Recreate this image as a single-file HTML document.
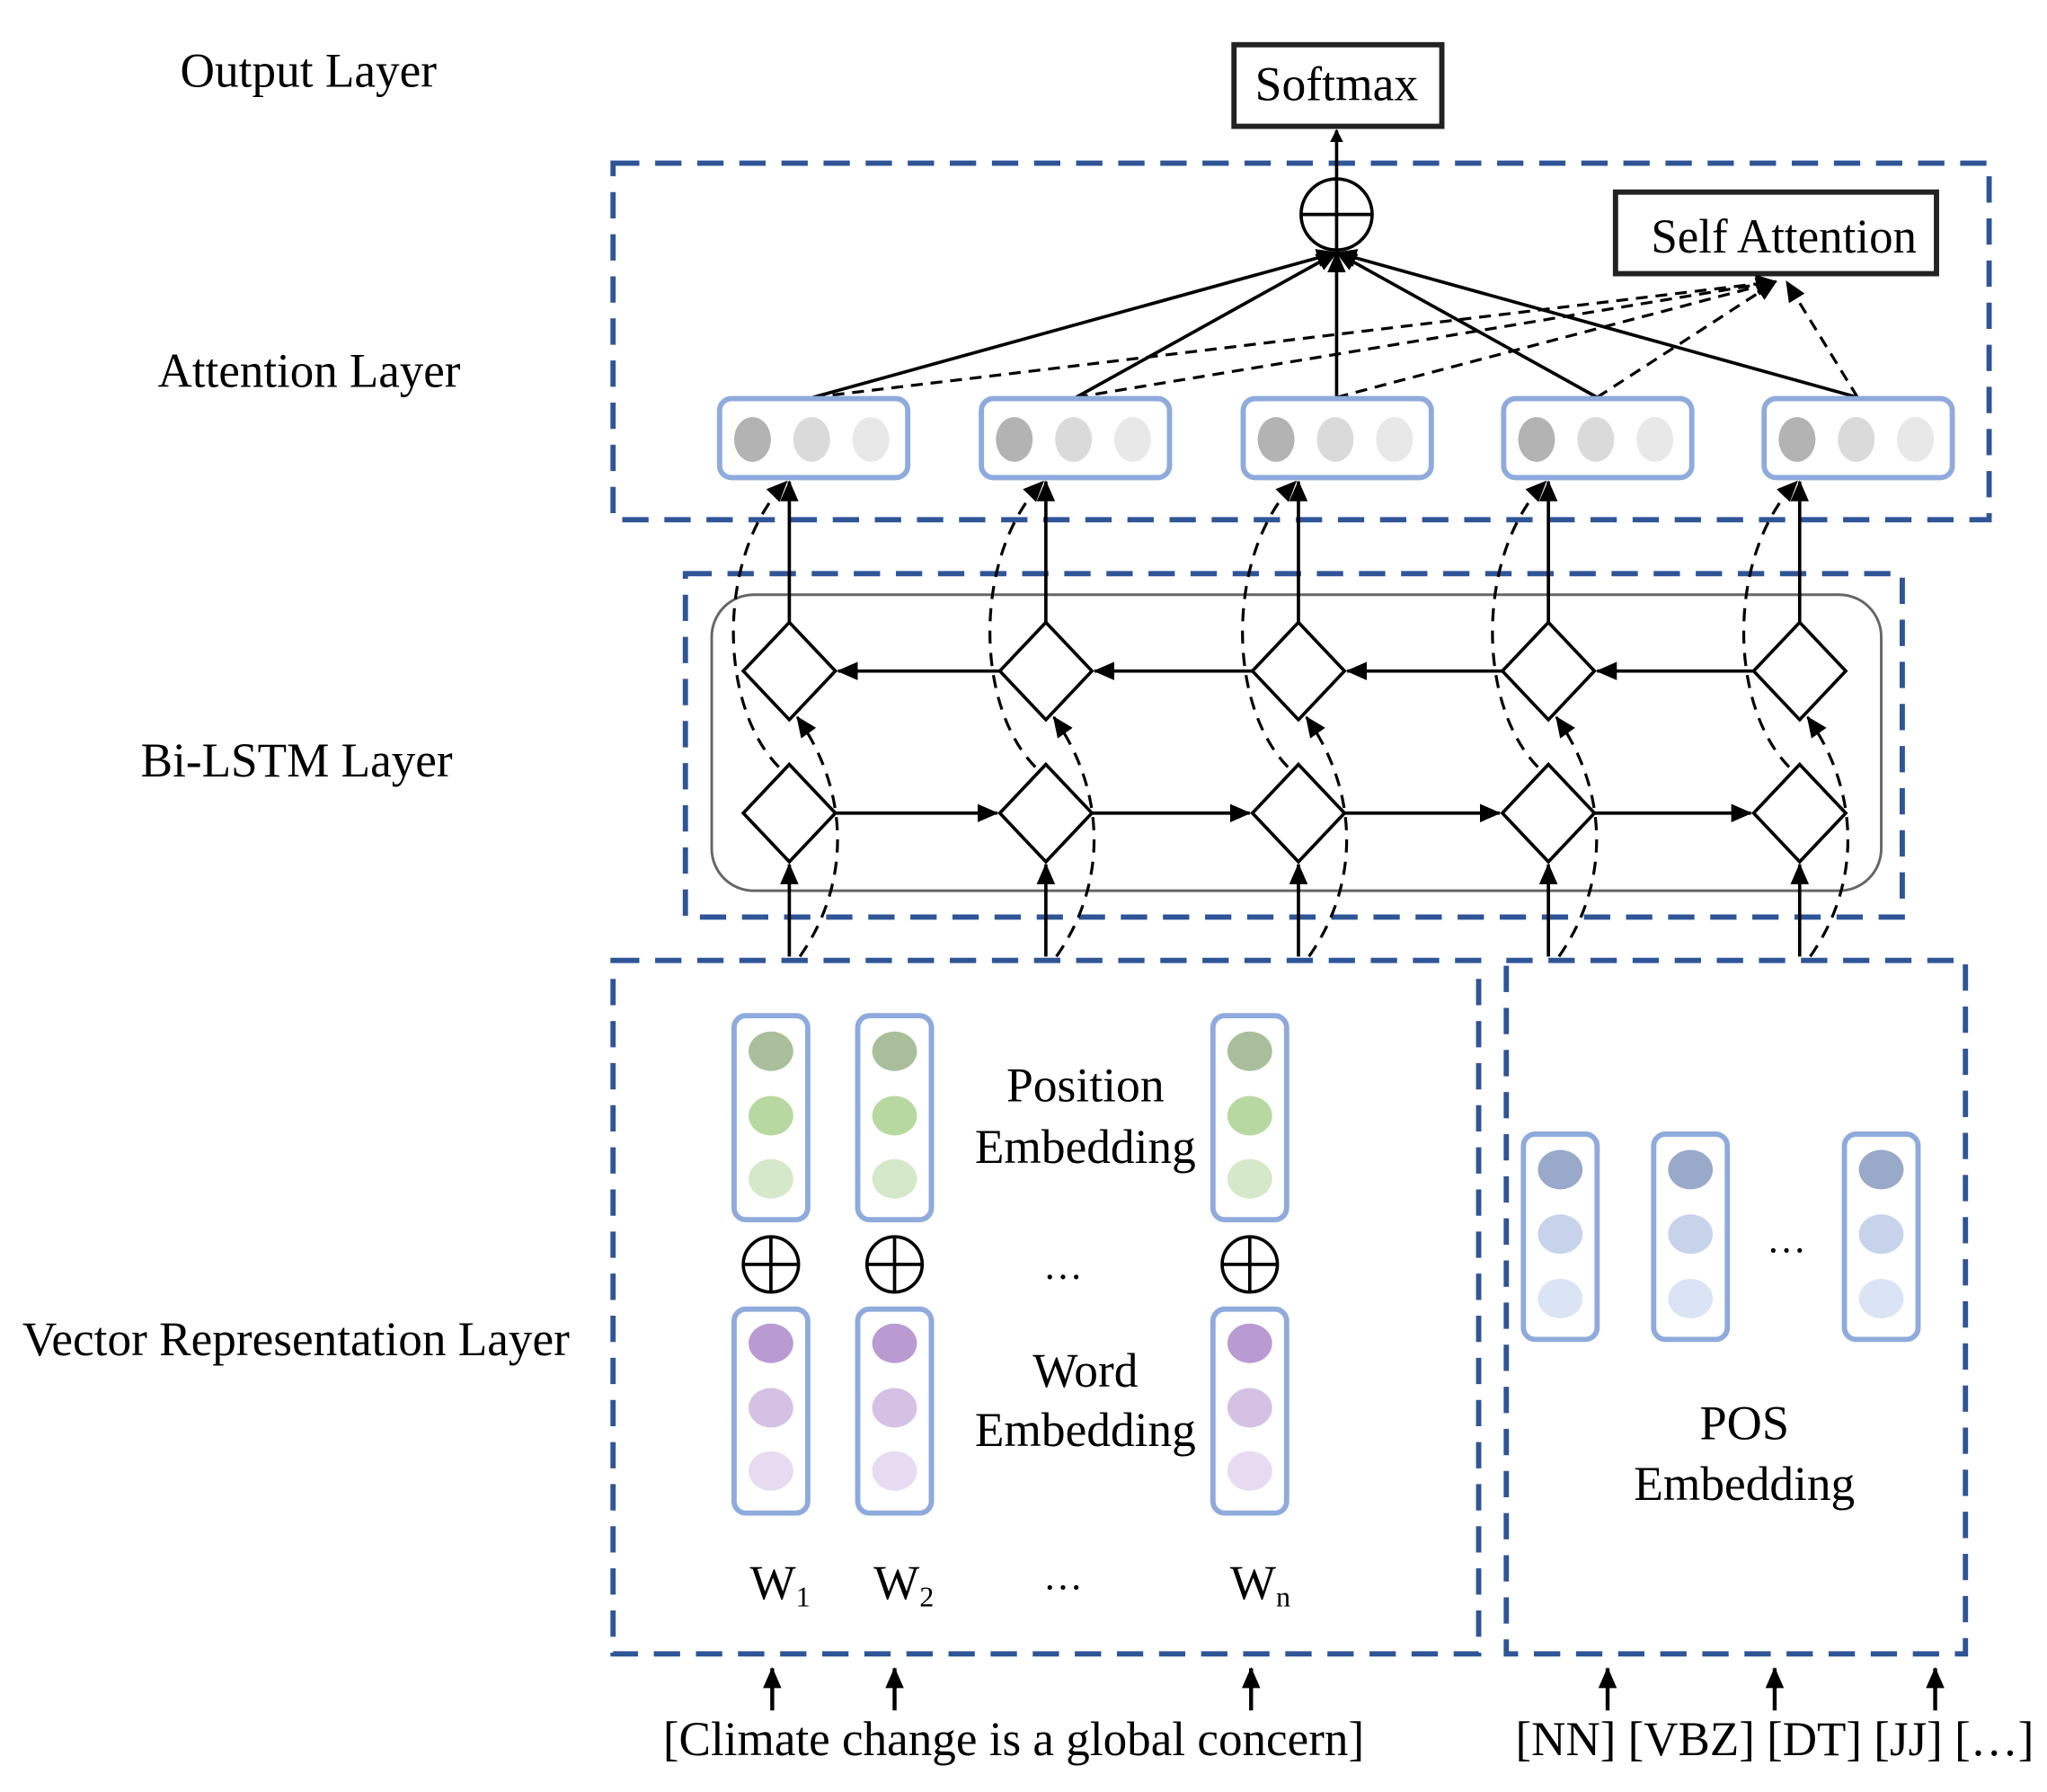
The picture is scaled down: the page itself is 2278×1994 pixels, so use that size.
<!DOCTYPE html>
<html><head><meta charset="utf-8"><style>
html,body{margin:0;padding:0;background:#fff;}
svg{display:block;}
text{font-family:"Liberation Serif",serif;fill:#000;}
</style></head><body>
<svg id="s" width="2278" height="1994" viewBox="0 0 1556 1362" preserveAspectRatio="none" xmlns="http://www.w3.org/2000/svg">
<defs>
<marker id="ah" markerWidth="10" markerHeight="10" refX="9" refY="5" orient="auto" markerUnits="userSpaceOnUse"><path d="M0,0 L10,5 L0,10 Z" fill="#000"/></marker>
<marker id="ahs" markerWidth="16" markerHeight="14" refX="15" refY="7" orient="auto" markerUnits="userSpaceOnUse"><path d="M0,0 L16,7 L0,14 Z" fill="#000"/></marker>
</defs>
<!-- layer labels -->
<text x="137" y="66" font-size="37" textLength="195" lengthAdjust="spacingAndGlyphs">Output Layer</text>
<text x="120" y="294" font-size="37" textLength="230" lengthAdjust="spacingAndGlyphs">Attention Layer</text>
<text x="107" y="590" font-size="37" textLength="237" lengthAdjust="spacingAndGlyphs">Bi-LSTM Layer</text>
<text x="17" y="1030" font-size="37" textLength="416" lengthAdjust="spacingAndGlyphs">Vector Representation Layer</text>

<!-- softmax -->
<rect x="938" y="34" width="158" height="62" fill="#fff" stroke="#222" stroke-width="4"/>
<text x="1016" y="76" font-size="37" text-anchor="middle" textLength="124" lengthAdjust="spacingAndGlyphs">Softmax</text>

<!-- dashed group boxes -->
<g fill="none" stroke="#2f5597" stroke-width="4" stroke-dasharray="20 12">
<rect x="466" y="124" width="1046" height="271"/>
<rect x="521" y="436" width="925" height="261"/>
<rect x="466" y="730" width="658" height="527"/>
<rect x="1145" y="730" width="349" height="527"/>
</g>
<rect x="541" y="452" width="889" height="225" rx="32" fill="none" stroke="#666" stroke-width="2"/>

<!-- plus circle -->
<line x1="1016" y1="136" x2="1016" y2="99" stroke="#000" stroke-width="2.5" marker-end="url(#ah)"/>
<circle cx="1016" cy="163" r="27" fill="#fff" stroke="#000" stroke-width="2.5"/>
<line x1="989" y1="163" x2="1043" y2="163" stroke="#000" stroke-width="2.5"/>
<line x1="1016" y1="136" x2="1016" y2="190" stroke="#000" stroke-width="2.5"/>

<!-- self attention -->
<rect x="1228" y="146" width="244" height="62" fill="#fff" stroke="#222" stroke-width="4"/>
<text x="1356" y="192" font-size="37" text-anchor="middle" textLength="202" lengthAdjust="spacingAndGlyphs">Self Attention</text>

<g id="dyn"></g>

<!-- embedding labels -->
<text x="825" y="837" font-size="37" text-anchor="middle" textLength="120" lengthAdjust="spacingAndGlyphs">Position</text>
<text x="825" y="884" font-size="37" text-anchor="middle" textLength="168" lengthAdjust="spacingAndGlyphs">Embedding</text>
<text x="825" y="1054" font-size="37" text-anchor="middle" textLength="80" lengthAdjust="spacingAndGlyphs">Word</text>
<text x="825" y="1099" font-size="37" text-anchor="middle" textLength="168" lengthAdjust="spacingAndGlyphs">Embedding</text>
<text x="808" y="972" font-size="30" text-anchor="middle">…</text>
<text x="808" y="1208" font-size="30" text-anchor="middle">…</text>
<text x="1358" y="952" font-size="30" text-anchor="middle">…</text>
<text x="1326" y="1094" font-size="37" text-anchor="middle" textLength="68" lengthAdjust="spacingAndGlyphs">POS</text>
<text x="1326" y="1140" font-size="37" text-anchor="middle" textLength="168" lengthAdjust="spacingAndGlyphs">Embedding</text>
<text x="570" y="1215" font-size="37">W<tspan font-size="22" dy="6">1</tspan></text>
<text x="664" y="1215" font-size="37">W<tspan font-size="22" dy="6">2</tspan></text>
<text x="935" y="1215" font-size="37">W<tspan font-size="22" dy="6">n</tspan></text>

<text x="504" y="1334" font-size="37" textLength="533" lengthAdjust="spacingAndGlyphs">[Climate change is a global concern]</text>
<text x="1152" y="1334" font-size="37" textLength="394" lengthAdjust="spacingAndGlyphs">[NN] [VBZ] [DT] [JJ] […]</text>
</svg>
<script>
(function(){
var NS="http://www.w3.org/2000/svg",g=document.getElementById("dyn");
function el(t,a){var e=document.createElementNS(NS,t);for(var k in a)e.setAttribute(k,a[k]);g.appendChild(e);return e;}
var cells=[547,746,945,1143,1341];
var tops=[618,818,1016,1214,1412];
// dashed to self attention
tops.forEach(function(x,i){
 el("line",{x1:x,y1:302,x2:(i==4?1358:1350),y2:214,stroke:"#000","stroke-width":2.2,"stroke-dasharray":"9 6","marker-end":"url(#ahs)"});
});
tops.forEach(function(x){
 el("line",{x1:x,y1:302,x2:1016,y2:192,stroke:"#000","stroke-width":2.5,"marker-end":"url(#ahs)"});
});
cells.forEach(function(x){
 el("rect",{x:x,y:303,width:143,height:60,rx:9,fill:"#fff",stroke:"#8faadc","stroke-width":4});
 [[25,"#b3b3b3"],[70,"#dadada"],[115,"#e8e8e8"]].forEach(function(c){
  el("ellipse",{cx:x+c[0],cy:334,rx:14,ry:17,fill:c[1]});
 });
});
var dx=[600,795,987,1177,1368];
dx.forEach(function(c,i){
 // dashed curves
 el("path",{d:"M"+(c+8)+",727 C"+(c+48)+",670 "+(c+45)+",600 "+(c+6)+",545",fill:"none",stroke:"#000","stroke-width":2.2,"stroke-dasharray":"10 7","marker-end":"url(#ahs)"});
 el("path",{d:"M"+(c-8)+",583 C"+(c-55)+",535 "+(c-55)+",420 "+(c-2)+",366",fill:"none",stroke:"#000","stroke-width":2.2,"stroke-dasharray":"10 7","marker-end":"url(#ahs)"});
 // vertical arrows
 el("line",{x1:c,y1:473,x2:c,y2:366,stroke:"#000","stroke-width":2.5,"marker-end":"url(#ahs)"});
 el("line",{x1:c,y1:727,x2:c,y2:657,stroke:"#000","stroke-width":2.5,"marker-end":"url(#ahs)"});
 [510,618].forEach(function(cy){
  el("path",{d:"M"+c+","+(cy-37)+" L"+(c+35)+","+cy+" L"+c+","+(cy+37)+" L"+(c-35)+","+cy+" Z",fill:"#fff",stroke:"#000","stroke-width":2.5});
 });
 if(i<4){
  var n=dx[i+1];
  el("line",{x1:n-35,y1:510,x2:c+37,y2:510,stroke:"#000","stroke-width":2.5,"marker-end":"url(#ahs)"});
  el("line",{x1:c+35,y1:618,x2:n-37,y2:618,stroke:"#000","stroke-width":2.5,"marker-end":"url(#ahs)"});
 }
});
// vertical vectors
function vec(cx,y,h,cols,cys){
 el("rect",{x:cx-28,y:y,width:56,height:h,rx:9,fill:"#fff",stroke:"#8faadc","stroke-width":4});
 cys.forEach(function(cy,j){el("ellipse",{cx:cx,cy:cy,rx:17,ry:15,fill:cols[j]});});
}
[586,680,950].forEach(function(cx){
 vec(cx,772,155,["#a9bf9b","#b8d8a1","#d5e8c9"],[799,848,896]);
 vec(cx,995,155,["#b99bd2","#d5c1e4","#e6dbf0"],[1021,1070,1118]);
 el("circle",{cx:cx,cy:961,r:21,fill:"#fff",stroke:"#000","stroke-width":2.5});
 el("line",{x1:cx-21,y1:961,x2:cx+21,y2:961,stroke:"#000","stroke-width":2.5});
 el("line",{x1:cx,y1:940,x2:cx,y2:982,stroke:"#000","stroke-width":2.5});
});
[1186,1285,1430].forEach(function(cx){
 vec(cx,862,156,["#98a9c9","#c6d3eb","#dbe4f4"],[889,938,987]);
});
[587,680,951,1222,1349,1471].forEach(function(x){
 el("line",{x1:x,y1:1300,x2:x,y2:1268,stroke:"#000","stroke-width":3,"marker-end":"url(#ahs)"});
});
})();
</script>
</body></html>
